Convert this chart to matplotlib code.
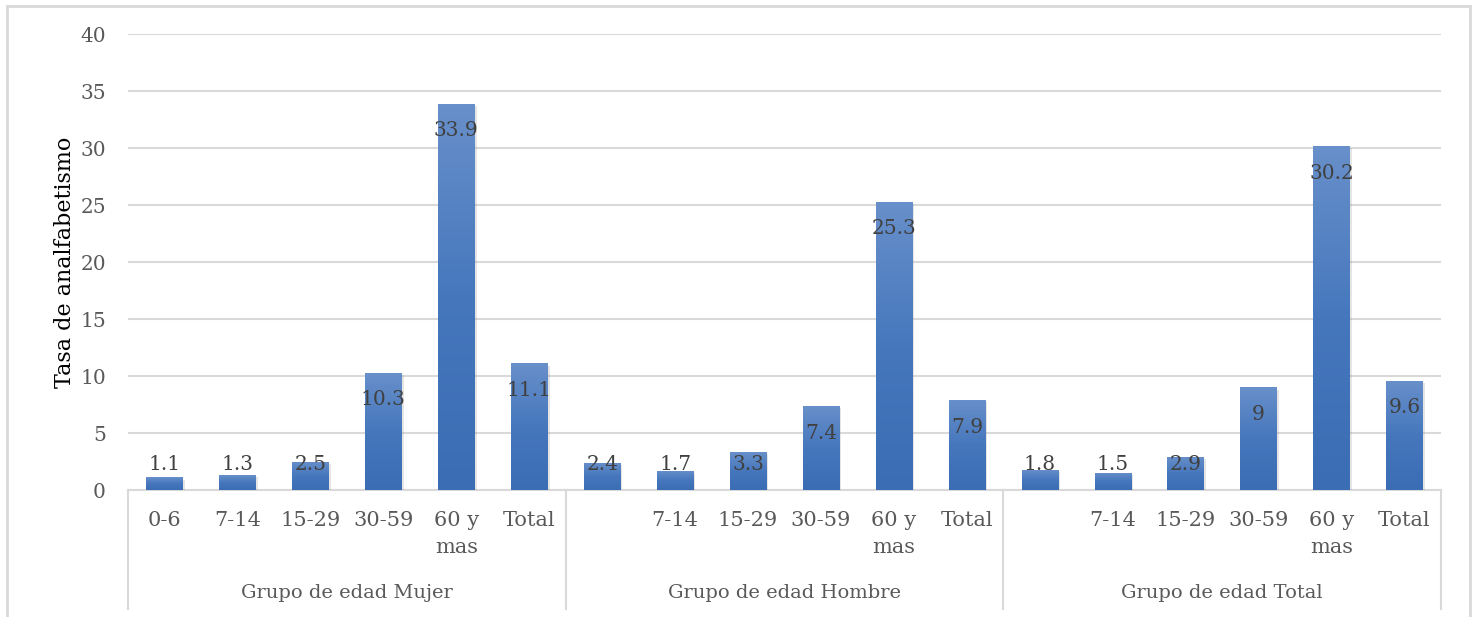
import matplotlib.pyplot as plt
import matplotlib.patheffects as pe
from matplotlib.patches import Rectangle
from matplotlib.colors import LinearSegmentedColormap
import numpy as np

# Tasa de analfabetismo por grupo de edad y sexo
grupos = ["Grupo de edad Mujer", "Grupo de edad Hombre", "Grupo de edad Total"]
edades_mujer = ["0-6", "7-14", "15-29", "30-59", "60 y\nmas", "Total"]
edades_hombre = ["", "7-14", "15-29", "30-59", "60 y\nmas", "Total"]
edades_total = ["", "7-14", "15-29", "30-59", "60 y\nmas", "Total"]
mujer = [1.1, 1.3, 2.5, 10.3, 33.9, 11.1]
hombre = [2.4, 1.7, 3.3, 7.4, 25.3, 7.9]
total = [1.8, 1.5, 2.9, 9, 30.2, 9.6]

plt.rcParams['font.family'] = ['DejaVu Serif']

etiquetas = edades_mujer + edades_hombre + edades_total
valores = mujer + hombre + total
x = np.arange(len(valores))
n = len(edades_mujer)

fig = plt.figure(figsize=(14.77, 6.17), dpi=100)
ax = fig.add_axes([0.0867, 0.2058, 0.8889, 0.739])

gris = "#d9d9d9"
ancho = 0.5

# degradado vertical de las barras
cmap = LinearSegmentedColormap.from_list("azul", ["#3b6db4", "#4677bd", "#6890ca"])
grad = np.linspace(0, 1, 256).reshape(-1, 1)

bars = ax.bar(x, valores, width=ancho, color="#4472c4", zorder=3,
              path_effects=[pe.SimplePatchShadow(offset=(1.5, -1.5), shadow_rgbFace="#7f7f7f", alpha=0.2),
                            pe.Normal()])
for b in bars:
    x0, y0 = b.get_x(), b.get_y()
    w, h = b.get_width(), b.get_height()
    im = ax.imshow(grad, extent=[x0, x0 + w, y0, y0 + h], origin="lower",
                   cmap=cmap, aspect="auto", zorder=3.5)
    im.set_clip_path(b)

# etiquetas de valor dentro del extremo de la barra
for xi, v in zip(x, valores):
    ax.text(xi, max(v - 2.4, 2.2), f"{v:g}", ha="center", va="center",
            fontsize=14.5, color="#404040", zorder=5)

ax.set_xlim(-0.5, len(valores) - 0.5)
ax.set_ylim(0, 40)
ax.set_yticks(np.arange(0, 41, 5))
ax.tick_params(axis="y", length=0, pad=16, labelsize=14.5, labelcolor="#595959")
ax.set_xticks([])
ax.grid(axis="y", color=gris, linewidth=1.5, zorder=0)
for s in ["top", "right", "left"]:
    ax.spines[s].set_visible(False)
ax.spines["bottom"].set_color(gris)
ax.spines["bottom"].set_linewidth(1.5)

ax.set_ylabel("Tasa de analfabetismo", fontsize=16, color="black", labelpad=3)

# eje de categorías en dos niveles
tr = ax.get_xaxis_transform()
for xi, lab in zip(x, etiquetas):
    ax.text(xi, -0.047, lab, transform=tr, ha="center", va="top",
            fontsize=15, color="#595959", linespacing=1.5)
for g, nombre in enumerate(grupos):
    ax.text(g * n + (n - 1) / 2, -0.226, nombre, transform=tr, ha="center",
            va="center", fontsize=14, color="#595959")
for g in range(len(grupos) + 1):
    ax.plot([g * n - 0.5] * 2, [0, -0.26], transform=tr, color=gris,
            linewidth=1.5, clip_on=False)

# marco exterior del gráfico
fig.add_artist(Rectangle((7 / 1477, -0.05), 1463 / 1477, 1 - 6 / 617 + 0.05,
                         transform=fig.transFigure, fill=False,
                         edgecolor=gris, linewidth=2))

fig.savefig("out.png", dpi=100)
